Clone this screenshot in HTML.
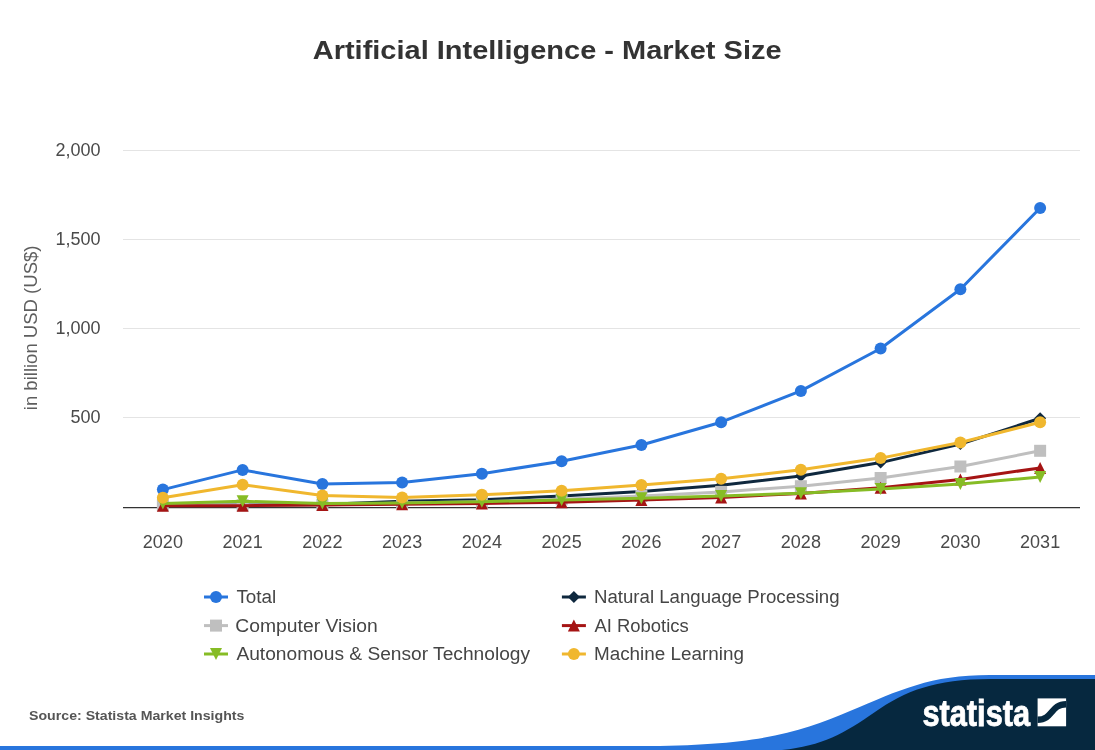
<!DOCTYPE html>
<html lang="en">
<head>
<meta charset="utf-8">
<title>Artificial Intelligence - Market Size</title>
<style>
html,body{margin:0;padding:0;background:#fff;}
body{width:1095px;height:750px;overflow:hidden;}
svg{display:block;will-change:transform;}
text{font-family:"Liberation Sans",Arial,sans-serif;}
.title{font-weight:700;font-size:26.5px;fill:#333;}
.lab{font-size:18px;fill:#4a4a4a;}
.ytitle{font-size:18px;fill:#5e5e5e;}
.leg{font-size:18px;fill:#454545;}
.src{font-size:13.5px;font-weight:700;fill:#555;}
.logo{font-weight:700;font-size:36.5px;fill:#fff;stroke:#fff;stroke-width:0.8px;}
</style>
</head>
<body>
<svg width="1095" height="750" viewBox="0 0 1095 750">
<rect x="0" y="0" width="1095" height="750" fill="#ffffff"/>
<text id="title" class="title" x="312.71" y="59" textLength="468.89" lengthAdjust="spacingAndGlyphs">Artificial Intelligence - Market Size</text>
<path d="M123 150.5H1080" stroke="#e4e4e4" stroke-width="1" fill="none"/>
<path d="M123 239.5H1080" stroke="#e4e4e4" stroke-width="1" fill="none"/>
<path d="M123 328.5H1080" stroke="#e4e4e4" stroke-width="1" fill="none"/>
<path d="M123 417.5H1080" stroke="#e4e4e4" stroke-width="1" fill="none"/>
<text class="lab" x="100.5" y="155.7" text-anchor="end">2,000</text>
<text class="lab" x="100.5" y="244.7" text-anchor="end">1,500</text>
<text class="lab" x="100.5" y="333.7" text-anchor="end">1,000</text>
<text class="lab" x="100.5" y="422.7" text-anchor="end">500</text>
<g transform="translate(37.3 0) rotate(-90)"><text id="ytitle" class="ytitle" x="-410.23" y="0" textLength="164.72" lengthAdjust="spacingAndGlyphs">in billion USD (US$)</text>
</g>
<path d="M123 507.6H1080" stroke="#333333" stroke-width="1.3" fill="none"/>
<g><polyline points="162.88,489.60 242.62,469.90 322.38,484.00 402.12,482.40 481.88,473.70 561.62,461.30 641.38,445.00 721.12,422.20 800.88,390.90 880.62,348.50 960.38,289.20 1040.12,208.00" fill="none" stroke="#2875DD" stroke-width="3" stroke-linejoin="round" stroke-linecap="round"/>
<circle cx="162.88" cy="489.60" r="6" fill="#2875DD"/><circle cx="242.62" cy="469.90" r="6" fill="#2875DD"/><circle cx="322.38" cy="484.00" r="6" fill="#2875DD"/><circle cx="402.12" cy="482.40" r="6" fill="#2875DD"/><circle cx="481.88" cy="473.70" r="6" fill="#2875DD"/><circle cx="561.62" cy="461.30" r="6" fill="#2875DD"/><circle cx="641.38" cy="445.00" r="6" fill="#2875DD"/><circle cx="721.12" cy="422.20" r="6" fill="#2875DD"/><circle cx="800.88" cy="390.90" r="6" fill="#2875DD"/><circle cx="880.62" cy="348.50" r="6" fill="#2875DD"/><circle cx="960.38" cy="289.20" r="6" fill="#2875DD"/><circle cx="1040.12" cy="208.00" r="6" fill="#2875DD"/></g>
<g><polyline points="162.88,505.30 242.62,505.00 322.38,504.50 402.12,501.20 481.88,499.70 561.62,496.00 641.38,491.40 721.12,485.20 800.88,476.00 880.62,462.60 960.38,444.10 1040.12,418.30" fill="none" stroke="#0F283E" stroke-width="3" stroke-linejoin="round" stroke-linecap="round"/>
<path d="M162.88 499.30L168.88 505.30L162.88 511.30L156.88 505.30Z" fill="#0F283E"/><path d="M242.62 499.00L248.62 505.00L242.62 511.00L236.62 505.00Z" fill="#0F283E"/><path d="M322.38 498.50L328.38 504.50L322.38 510.50L316.38 504.50Z" fill="#0F283E"/><path d="M402.12 495.20L408.12 501.20L402.12 507.20L396.12 501.20Z" fill="#0F283E"/><path d="M481.88 493.70L487.88 499.70L481.88 505.70L475.88 499.70Z" fill="#0F283E"/><path d="M561.62 490.00L567.62 496.00L561.62 502.00L555.62 496.00Z" fill="#0F283E"/><path d="M641.38 485.40L647.38 491.40L641.38 497.40L635.38 491.40Z" fill="#0F283E"/><path d="M721.12 479.20L727.12 485.20L721.12 491.20L715.12 485.20Z" fill="#0F283E"/><path d="M800.88 470.00L806.88 476.00L800.88 482.00L794.88 476.00Z" fill="#0F283E"/><path d="M880.62 456.60L886.62 462.60L880.62 468.60L874.62 462.60Z" fill="#0F283E"/><path d="M960.38 438.10L966.38 444.10L960.38 450.10L954.38 444.10Z" fill="#0F283E"/><path d="M1040.12 412.30L1046.12 418.30L1040.12 424.30L1034.12 418.30Z" fill="#0F283E"/></g>
<g><polyline points="162.88,505.30 242.62,505.30 322.38,505.00 402.12,503.00 481.88,501.80 561.62,499.30 641.38,496.00 721.12,491.90 800.88,486.20 880.62,478.00 960.38,466.50 1040.12,450.80" fill="none" stroke="#BFBFBF" stroke-width="3" stroke-linejoin="round" stroke-linecap="round"/>
<rect x="156.88" y="499.30" width="12" height="12" fill="#BFBFBF"/><rect x="236.62" y="499.30" width="12" height="12" fill="#BFBFBF"/><rect x="316.38" y="499.00" width="12" height="12" fill="#BFBFBF"/><rect x="396.12" y="497.00" width="12" height="12" fill="#BFBFBF"/><rect x="475.88" y="495.80" width="12" height="12" fill="#BFBFBF"/><rect x="555.62" y="493.30" width="12" height="12" fill="#BFBFBF"/><rect x="635.38" y="490.00" width="12" height="12" fill="#BFBFBF"/><rect x="715.12" y="485.90" width="12" height="12" fill="#BFBFBF"/><rect x="794.88" y="480.20" width="12" height="12" fill="#BFBFBF"/><rect x="874.62" y="472.00" width="12" height="12" fill="#BFBFBF"/><rect x="954.38" y="460.50" width="12" height="12" fill="#BFBFBF"/><rect x="1034.12" y="444.80" width="12" height="12" fill="#BFBFBF"/></g>
<g><polyline points="162.88,505.70 242.62,505.70 322.38,504.90 402.12,504.30 481.88,503.50 561.62,502.20 641.38,500.00 721.12,497.40 800.88,493.40 880.62,487.80 960.38,479.40 1040.12,467.90" fill="none" stroke="#A51414" stroke-width="3" stroke-linejoin="round" stroke-linecap="round"/>
<path d="M162.88 499.70L168.88 511.70L156.88 511.70Z" fill="#A51414"/><path d="M242.62 499.70L248.62 511.70L236.62 511.70Z" fill="#A51414"/><path d="M322.38 498.90L328.38 510.90L316.38 510.90Z" fill="#A51414"/><path d="M402.12 498.30L408.12 510.30L396.12 510.30Z" fill="#A51414"/><path d="M481.88 497.50L487.88 509.50L475.88 509.50Z" fill="#A51414"/><path d="M561.62 496.20L567.62 508.20L555.62 508.20Z" fill="#A51414"/><path d="M641.38 494.00L647.38 506.00L635.38 506.00Z" fill="#A51414"/><path d="M721.12 491.40L727.12 503.40L715.12 503.40Z" fill="#A51414"/><path d="M800.88 487.40L806.88 499.40L794.88 499.40Z" fill="#A51414"/><path d="M880.62 481.80L886.62 493.80L874.62 493.80Z" fill="#A51414"/><path d="M960.38 473.40L966.38 485.40L954.38 485.40Z" fill="#A51414"/><path d="M1040.12 461.90L1046.12 473.90L1034.12 473.90Z" fill="#A51414"/></g>
<g><polyline points="162.88,503.40 242.62,501.30 322.38,503.40 402.12,503.00 481.88,501.70 561.62,500.00 641.38,498.20 721.12,496.10 800.88,493.20 880.62,489.10 960.38,483.90 1040.12,477.10" fill="none" stroke="#86BC25" stroke-width="3" stroke-linejoin="round" stroke-linecap="round"/>
<path d="M156.88 497.40L168.88 497.40L162.88 509.40Z" fill="#86BC25"/><path d="M236.62 495.30L248.62 495.30L242.62 507.30Z" fill="#86BC25"/><path d="M316.38 497.40L328.38 497.40L322.38 509.40Z" fill="#86BC25"/><path d="M396.12 497.00L408.12 497.00L402.12 509.00Z" fill="#86BC25"/><path d="M475.88 495.70L487.88 495.70L481.88 507.70Z" fill="#86BC25"/><path d="M555.62 494.00L567.62 494.00L561.62 506.00Z" fill="#86BC25"/><path d="M635.38 492.20L647.38 492.20L641.38 504.20Z" fill="#86BC25"/><path d="M715.12 490.10L727.12 490.10L721.12 502.10Z" fill="#86BC25"/><path d="M794.88 487.20L806.88 487.20L800.88 499.20Z" fill="#86BC25"/><path d="M874.62 483.10L886.62 483.10L880.62 495.10Z" fill="#86BC25"/><path d="M954.38 477.90L966.38 477.90L960.38 489.90Z" fill="#86BC25"/><path d="M1034.12 471.10L1046.12 471.10L1040.12 483.10Z" fill="#86BC25"/></g>
<g><polyline points="162.88,497.80 242.62,484.80 322.38,495.50 402.12,497.50 481.88,494.80 561.62,490.80 641.38,485.00 721.12,478.70 800.88,469.80 880.62,458.10 960.38,442.50 1040.12,422.20" fill="none" stroke="#F0B72E" stroke-width="3" stroke-linejoin="round" stroke-linecap="round"/>
<circle cx="162.88" cy="497.80" r="6" fill="#F0B72E"/><circle cx="242.62" cy="484.80" r="6" fill="#F0B72E"/><circle cx="322.38" cy="495.50" r="6" fill="#F0B72E"/><circle cx="402.12" cy="497.50" r="6" fill="#F0B72E"/><circle cx="481.88" cy="494.80" r="6" fill="#F0B72E"/><circle cx="561.62" cy="490.80" r="6" fill="#F0B72E"/><circle cx="641.38" cy="485.00" r="6" fill="#F0B72E"/><circle cx="721.12" cy="478.70" r="6" fill="#F0B72E"/><circle cx="800.88" cy="469.80" r="6" fill="#F0B72E"/><circle cx="880.62" cy="458.10" r="6" fill="#F0B72E"/><circle cx="960.38" cy="442.50" r="6" fill="#F0B72E"/><circle cx="1040.12" cy="422.20" r="6" fill="#F0B72E"/></g>
<text class="lab" x="162.88" y="547.8" text-anchor="middle">2020</text>
<text class="lab" x="242.62" y="547.8" text-anchor="middle">2021</text>
<text class="lab" x="322.38" y="547.8" text-anchor="middle">2022</text>
<text class="lab" x="402.12" y="547.8" text-anchor="middle">2023</text>
<text class="lab" x="481.88" y="547.8" text-anchor="middle">2024</text>
<text class="lab" x="561.62" y="547.8" text-anchor="middle">2025</text>
<text class="lab" x="641.38" y="547.8" text-anchor="middle">2026</text>
<text class="lab" x="721.12" y="547.8" text-anchor="middle">2027</text>
<text class="lab" x="800.88" y="547.8" text-anchor="middle">2028</text>
<text class="lab" x="880.62" y="547.8" text-anchor="middle">2029</text>
<text class="lab" x="960.38" y="547.8" text-anchor="middle">2030</text>
<text class="lab" x="1040.12" y="547.8" text-anchor="middle">2031</text>
<path d="M204 597.0H228" stroke="#2875DD" stroke-width="3"/><circle cx="216.00" cy="597.00" r="6" fill="#2875DD"/><text id="leg_total" class="leg" x="236.41" y="603.2" textLength="39.88" lengthAdjust="spacingAndGlyphs">Total</text>
<path d="M204 625.6H228" stroke="#BFBFBF" stroke-width="3"/><rect x="210.00" y="619.60" width="12" height="12" fill="#BFBFBF"/><text id="leg_cv" class="leg" x="235.35" y="631.8" textLength="142.36" lengthAdjust="spacingAndGlyphs">Computer Vision</text>
<path d="M204 654.0H228" stroke="#86BC25" stroke-width="3"/><path d="M210.00 648.00L222.00 648.00L216.00 660.00Z" fill="#86BC25"/><text id="leg_auto" class="leg" x="236.42" y="660.2" textLength="293.65" lengthAdjust="spacingAndGlyphs">Autonomous &amp; Sensor Technology</text>
<path d="M561.9 597.0H585.9" stroke="#0F283E" stroke-width="3"/><path d="M573.90 591.00L579.90 597.00L573.90 603.00L567.90 597.00Z" fill="#0F283E"/><text id="leg_nlp" class="leg" x="593.98" y="603.2" textLength="245.60" lengthAdjust="spacingAndGlyphs">Natural Language Processing</text>
<path d="M561.9 625.6H585.9" stroke="#A51414" stroke-width="3"/><path d="M573.90 619.60L579.90 631.60L567.90 631.60Z" fill="#A51414"/><text id="leg_rob" class="leg" x="594.51" y="631.8" textLength="94.25" lengthAdjust="spacingAndGlyphs">AI Robotics</text>
<path d="M561.9 654.0H585.9" stroke="#F0B72E" stroke-width="3"/><circle cx="573.90" cy="654.00" r="6" fill="#F0B72E"/><text id="leg_ml" class="leg" x="593.97" y="660.2" textLength="149.96" lengthAdjust="spacingAndGlyphs">Machine Learning</text>
<text id="src" class="src" x="29.05" y="720" textLength="215.34" lengthAdjust="spacingAndGlyphs">Source: Statista Market Insights</text>
<rect x="0" y="746" width="1095" height="4" fill="#2875DD"/>
<path d="M640 750 L640 746 C 760 746 800 732 850 711 C 900 690 930 675 990 675 L1095 675 L1095 750 Z" fill="#2875DD"/>
<path d="M782 750 C 822 746 845 733 875 712 C 905 691 935 679 990 679 L1095 679 L1095 750 Z" fill="#06283F"/>
<text id="statista" class="logo" x="922.40" y="726.0" textLength="107.70" lengthAdjust="spacingAndGlyphs">statista</text>
<rect x="1037.6" y="698.4" width="28.5" height="27.9" fill="#ffffff"/>
<path d="M1037.6 719.7 C1053 719.7 1050.5 704.2 1066.1 704.2" fill="none" stroke="#06283F" stroke-width="6.4"/>
</svg>
</body>
</html>
